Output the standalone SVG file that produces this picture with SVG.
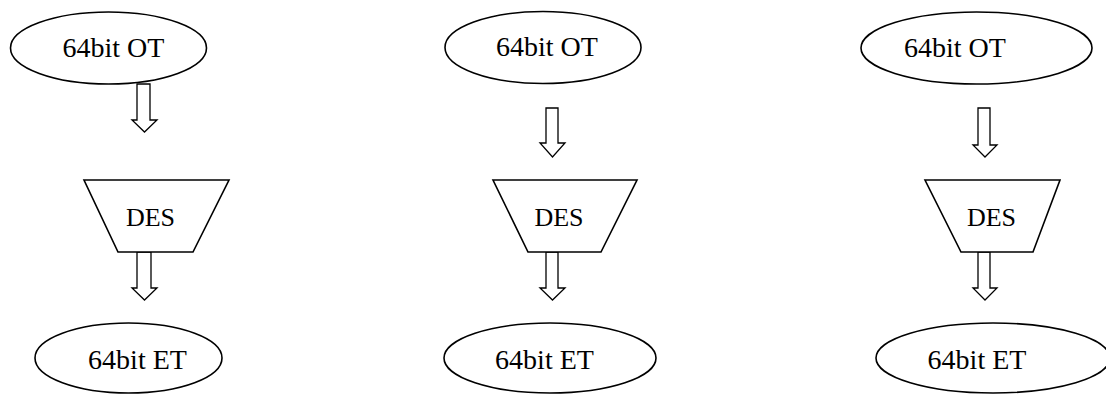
<svg xmlns="http://www.w3.org/2000/svg" width="1106" height="394" viewBox="0 0 1106 394">
  <defs>
    <style>
      .shape { fill: #ffffff; stroke: #000000; stroke-width: 1.6; }
      .arrow { fill: #ffffff; stroke: #000000; stroke-width: 1.3; stroke-linejoin: miter; }
      text { fill: #000000; text-anchor: middle; }
    </style>
  </defs>
  <rect width="1106" height="394" fill="#ffffff"/>

  <!-- block arrows between stages -->
  <g id="connectors">
    <path class="arrow" d="M137,84 V120 H132 L144.5,132 L157,120 H150 V84 Z"/>
    <path class="arrow" d="M137,252 V288 H132 L144.5,300 L157,288 H151 V252 Z"/>
    <path class="arrow" d="M546,108 V143 H540 L552.5,157 L565,143 H558 V108 Z"/>
    <path class="arrow" d="M546,252 V288 H540 L552.5,300 L565,288 H558 V252 Z"/>
    <path class="arrow" d="M978,108 V145 H973 L985,157 L997,145 H990 V108 Z"/>
    <path class="arrow" d="M978,252 V288 H973 L985,300 L997,288 H990 V252 Z"/>
  </g>

  <g font-family="'Liberation Serif', 'Times New Roman', 'DejaVu Serif', serif" font-size="28">
    <!-- column 1 -->
    <g id="ot1">
      <ellipse class="shape" cx="108.5" cy="48" rx="98" ry="36"/>
      <text x="113.5" y="57">64bit OT</text>
    </g>
    <g id="des1">
      <polygon class="shape" points="84,180 229,180 193,252 118,252"/>
      <text x="150.5" y="226" font-size="26">DES</text>
    </g>
    <g id="et1">
      <ellipse class="shape" cx="128.5" cy="358" rx="93.5" ry="35"/>
      <text x="137.5" y="369">64bit ET</text>
    </g>

    <!-- column 2 -->
    <g id="ot2">
      <ellipse class="shape" cx="543" cy="47.5" rx="98" ry="36"/>
      <text x="547" y="56">64bit OT</text>
    </g>
    <g id="des2">
      <polygon class="shape" points="493,180 637,180 601,252 528,252"/>
      <text x="559" y="226" font-size="26">DES</text>
    </g>
    <g id="et2">
      <ellipse class="shape" cx="550" cy="358" rx="106" ry="35"/>
      <text x="544.5" y="369">64bit ET</text>
    </g>

    <!-- column 3 -->
    <g id="ot3">
      <ellipse class="shape" cx="976.5" cy="48" rx="115.5" ry="36"/>
      <text x="955" y="57">64bit OT</text>
    </g>
    <g id="des3">
      <polygon class="shape" points="925,180 1060,180 1033,252 961,252"/>
      <text x="991.5" y="226" font-size="26">DES</text>
    </g>
    <g id="et3">
      <ellipse class="shape" cx="993" cy="358" rx="117" ry="35"/>
      <text x="977" y="369">64bit ET</text>
    </g>
  </g>
</svg>
